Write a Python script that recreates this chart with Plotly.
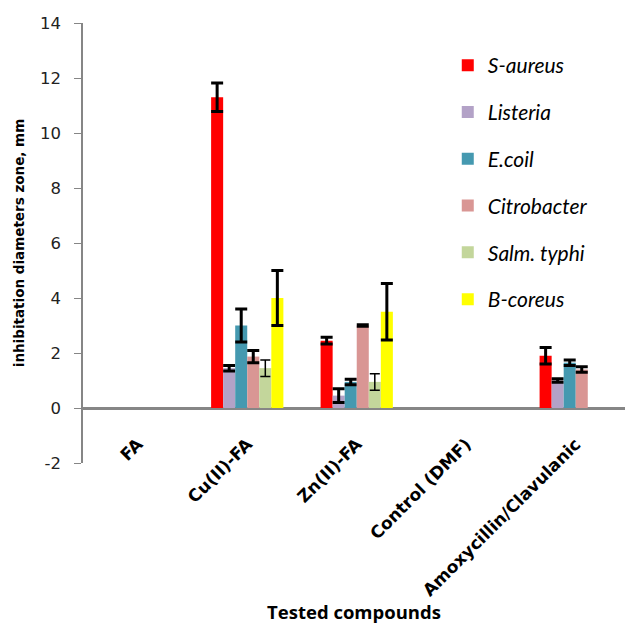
import plotly.graph_objects as go

categories = ["FA", "Cu(II)-FA", "Zn(II)-FA", "Control (DMF)", "Amoxycillin/Clavulanic"]
series_names = ["S-aureus", "Listeria", "E.coil", "Citrobacter", "Salm. typhi", "B-coreus"]

s_aureus = [0, 11.3, 2.45, 0, 1.9]
listeria = [0, 1.45, 0.45, 0, 1.0]
e_coil = [0, 3.0, 0.95, 0, 1.65]
citrobacter = [0, 1.87, 3.0, 0, 1.4]
salm_typhi = [0, 1.45, 0.95, 0, 0]
b_coreus = [0, 4.0, 3.5, 0, 0]

err_s_aureus = [0, 0.52, 0.12, 0, 0.3]
err_listeria = [0, 0.1, 0.25, 0, 0.06]
err_e_coil = [0, 0.6, 0.1, 0, 0.1]
err_citrobacter = [0, 0.22, 0.03, 0, 0.1]
err_salm_typhi = [0, 0.3, 0.3, 0, 0]
err_b_coreus = [0, 1.0, 1.03, 0, 0]

y_ticks = [-2, 0, 2, 4, 6, 8, 10, 12, 14]
y_tick_labels = ["-2", "0", "2", "4", "6", "8", "10", "12", "14"]

values = [s_aureus, listeria, e_coil, citrobacter, salm_typhi, b_coreus]
errors = [err_s_aureus, err_listeria, err_e_coil, err_citrobacter, err_salm_typhi, err_b_coreus]
colors = ["#FF0000", "#B3A2C7", "#4599B0", "#D99694", "#C3D69B", "#FFFF00"]
err_thick = [3, 3, 3, 3, 1.5, 3]
err_width = [6, 6, 6, 6, 5, 6]

fig = go.Figure()
for i, name in enumerate(series_names):
    # zero-height bars are not drawn (and carry no error bar)
    y_arr = [v if v != 0 else None for v in values[i]]
    err_arr = [e if e > 0 else None for e in errors[i]]
    fig.add_trace(go.Bar(
        x=categories, y=y_arr, name=name,
        marker=dict(color=colors[i], line=dict(width=0)),
        error_y=dict(type="data", array=err_arr, visible=True,
                     color="black", thickness=err_thick[i], width=err_width[i]),
        legendgroup=name,
    ))

fig.update_layout(
    width=625, height=624,
    margin=dict(l=83, r=0, t=23, b=161),
    paper_bgcolor="white", plot_bgcolor="white",
    barmode="group", bargap=0.34, bargroupgap=0,
    showlegend=True,
    legend=dict(x=0.673, y=0.95, xanchor="left", yanchor="top",
                font=dict(family="Lato", size=21, color="black", style="italic"),
                tracegroupgap=16.5, itemwidth=30, bgcolor="rgba(0,0,0,0)"),
    xaxis=dict(range=[-0.5, 4.45], showline=False, ticks="", tickangle=-45,
               ticklabelstandoff=-33,
               tickfont=dict(family="DejaVu Sans", size=17, color="black", weight="bold"),
               title=dict(text="Tested compounds",
                          font=dict(family="Open Sans", size=18.5, color="black", weight="bold"),
                          standoff=4),
               showgrid=False, zeroline=False),
    yaxis=dict(range=[-2, 14], tickvals=y_ticks, ticktext=y_tick_labels,
               ticks="outside", ticklen=7, ticklabelstandoff=10,
               tickcolor="#868686", showline=True, linecolor="#868686", linewidth=1.5,
               showgrid=False, zeroline=True, zerolinecolor="#868686", zerolinewidth=2.5,
               tickfont=dict(family="DejaVu Sans", size=16.5, color="#222"),
               title=dict(text="inhibitation diameters zone, mm",
                          font=dict(family="DejaVu Sans", size=13.5, color="black", weight="bold"),
                          standoff=12)),
)

fig.write_html("out.html")
